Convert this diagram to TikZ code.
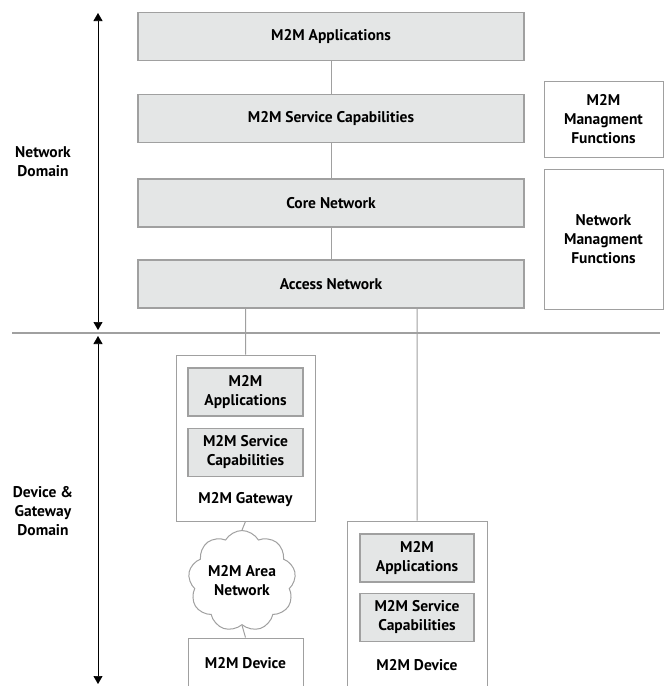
\documentclass[tikz,border=0pt]{standalone}
\usepackage{fontspec}
\setmainfont{PT Sans}
\usepackage{tikz}
\usetikzlibrary{positioning,shapes.symbols,arrows.meta}

\definecolor{boxfill}{RGB}{228,230,230}
\definecolor{boxline}{RGB}{160,160,160}

\newcommand\boxfont{\fontsize{15.5}{19}\selectfont\bfseries}

\tikzset{
  layer/.style={draw=boxline,fill=boxfill,line width=1.2pt,minimum width=386pt,minimum height=48pt,font=\boxfont},
  part/.style={draw=boxline,fill=boxfill,line width=1.2pt,minimum width=115pt,minimum height=48pt,align=center,font=\boxfont},
  frame/.style={draw=boxline,line width=1pt,align=center,font=\boxfont},
  link/.style={draw=boxline,line width=1pt},
  lbl/.style={align=center,font=\boxfont},
  span/.style={{Triangle[width=9pt,length=8pt]}-{Triangle[width=9pt,length=8pt]},line width=0.7pt}
}

\begin{document}
\begin{tikzpicture}[x=1pt,y=-1pt,node distance=82pt,on grid]
	\useasboundingbox (0,0) rectangle (665,686);
	\clip (0,0) rectangle (665,686);

	% network domain stack
	\node[layer] (app)    at (331,36.5) {M2M Applications};
	\node[layer] (msc)    [below=of app]    {M2M Service Capabilities};
	\node[layer] (core)   [below=84.5pt of msc] {Core Network};
	\node[layer] (access) [below=81pt of core]  {Access Network};

	\node[frame,minimum width=119pt,minimum height=76pt]  (mgmt) at (603.5,119) {M2M\\Managment\\Functions};
	\node[frame,minimum width=119pt,minimum height=140pt] (nmgmt) at (603.5,239) {Network\\Managment\\Functions};

	\path[link] (app) -- (msc) (msc) -- (core) (core) -- (access);

	% domain split
	\coordinate (sl) at (12,333);
	\coordinate (sr) at (660,333);
	\draw[boxline,line width=1.2pt] (sl) -- (sr);

	\coordinate (nt) at (98,13);
	\coordinate (nb) at (98,330);
	\coordinate (dt) at (98,336);
	\coordinate (db) at (98,684);
	\draw[span] (nt) -- (nb);
	\draw[span] (dt) -- (db);

	\node[lbl] (netdom) at (43,162) {Network\\Domain};
	\node[lbl] (devdom) at (43,511) {Device \&\\Gateway\\Domain};

	% gateway
	\node[frame,minimum width=139pt,minimum height=166pt] (gw) at (245.5,438) {};
	\node[part] (gwapp) at (245.5,392) {M2M\\Applications};
	\node[part] (gwsc)  [below=60.5pt of gwapp] {M2M Service\\Capabilities};
	\node[lbl] (gwname) at (245.5,500) {M2M Gateway};

	\node[cloud,draw=boxline,line width=1pt,cloud puffs=9,cloud puff arc=120,aspect=1.1,
	      minimum width=104pt,minimum height=88pt,inner sep=0pt,align=center,font=\boxfont] (area) at (242,581) {M2M Area\\Network};

	\node[frame,minimum width=115pt,minimum height=70pt] (dev1) at (245.5,673) {};
	\node[lbl] (dev1name) at (245.5,663) {M2M Device};

	% device with own capabilities
	\node[frame,minimum width=140pt,minimum height=180pt] (dev2) at (417,611) {};
	\node[part,minimum width=114pt] (devapp) at (417,558) {M2M\\Applications};
	\node[part,minimum width=114pt] (devsc)  [below=59.5pt of devapp] {M2M Service\\Capabilities};
	\node[lbl] (dev2name) at (417,665) {M2M Device};

	\coordinate (a1) at (245.5,308);
	\coordinate (a2) at (417,308);
	\path[link] (a1) -- (gw.north) (a2) -- (dev2.north)
	      (gw.south) -- (area.north) (area.south) -- (dev1.north);
\end{tikzpicture}
\end{document}
